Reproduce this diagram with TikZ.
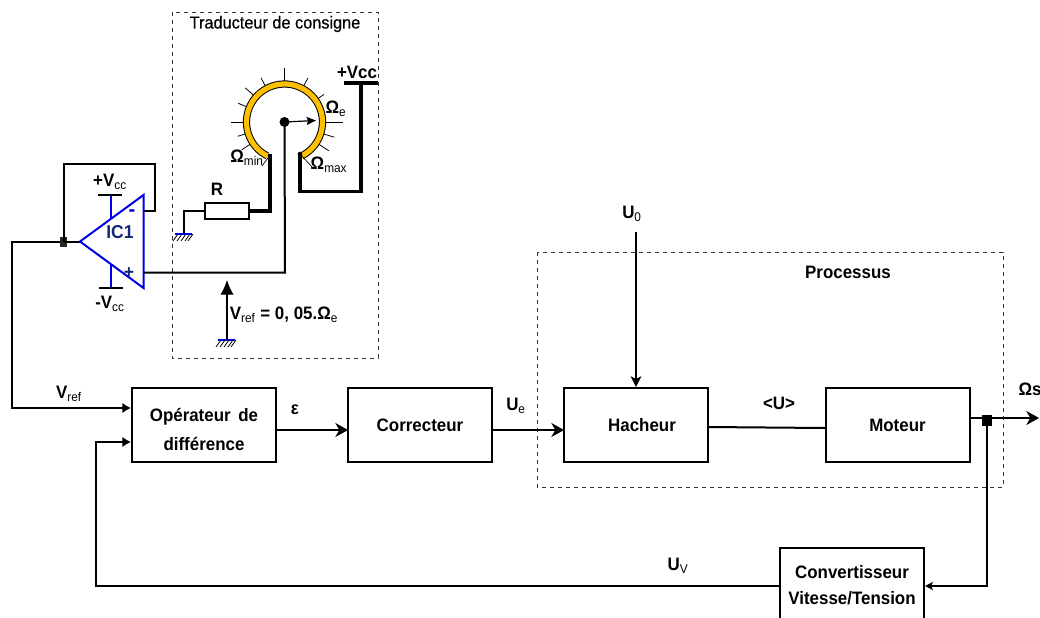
\documentclass[tikz,border=0pt]{standalone}
\usepackage{fontspec}
\setmainfont[FakeStretch=0.94]{Liberation Sans}
\newfontfamily\midfont[FakeStretch=0.94,FakeBold=0.5]{Liberation Sans}
\usetikzlibrary{calc}
\usetikzlibrary{arrows.meta}

\definecolor{opblue}{RGB}{0,0,230}
\definecolor{opnavy}{RGB}{20,40,120}
\definecolor{ringgold}{RGB}{255,192,0}

% Low index in the lighter weight
\newcommand{\lowtxt}[1]{\textsubscript{\mdseries #1}}

\begin{document}
\begin{tikzpicture}[
    x=0.75pt, y=-0.75pt,
    every node/.style={font=\fontsize{13.5}{17}\selectfont\bfseries},
    wire/.style={line width=1.5pt},
    thinwire/.style={line width=1.1pt},
    heavywire/.style={line width=2.3pt},
    framebox/.style={draw=black!80, dashed, line width=0.7pt},
    blockbox/.style={draw, line width=1.5pt, align=center, minimum width=108pt, minimum height=55.5pt, inner sep=0pt},
    tick/.style={line width=0.6pt},
    ampline/.style={draw=opblue, line width=1.5pt},
    >={Stealth[length=9.5pt, width=10.5pt, inset=3pt]},
    gnd/.pic={
      \draw[draw=opblue, line width=1pt] (-9,0) -- (8,0);
      \foreach \h in {-6,-2,2,6,9} {
        \draw[line width=0.6pt] (\h,0) -- (\h-5,7);
      }
    }
  ]

\useasboundingbox (0,0) rectangle (1040,618);
\clip (0,0) rectangle (1040,618);

% Dashed frames
\draw[framebox] (172,12) rectangle (378,358);
\draw[framebox] (537,252) rectangle (1003,487);
\node (traducteur) at (275,24) {\midfont\mdseries\fontsize{13}{16}\selectfont Traducteur de consigne};
\node (processus) at (848,272) {Processus};

% Blocks of the loop
\node[blockbox] (oper) at (204,425) {\rule{0pt}{17pt}Opérateur\, de\\[5pt]différence};
\node[blockbox] (correcteur) at (420,425) {Correcteur};
\node[blockbox] (hacheur) at (636,425) {\hspace*{9pt}Hacheur};
\node[blockbox] (moteur) at (897.5,425) {Moteur};
\node[blockbox, anchor=north] (convert) at (852,547) {Convertisseur\\[3pt]Vitesse/Tension};

% Junction points
\coordinate (tap) at (63.5,241.5);
\coordinate (sense) at (987,420.5);
\coordinate (exit) at (1039,418);
\coordinate (uzero) at (636,232);

% Forward path
\draw[wire, ->] (276,430) -- (348,430);
\draw[wire, ->] (492,430) -- (564,430);
\draw[wire] (708,427) -- (825,428);
\draw[wire, ->] (moteur.east |- exit) -- (exit);
\draw[wire, ->, >={Stealth[length=8pt, width=8pt, inset=2pt]}] (uzero) -- (hacheur.north);

% Return path
\draw[wire, ->, >={Stealth[length=6pt, width=6pt, inset=1.5pt]}] (sense) -- (987,586) -- (convert.east |- 0,586);
\draw[wire, ->, >={Latex[length=6.5pt, width=8pt]}] (convert.west |- 0,586) -- (96,586) -- (96,442) -- (oper.west |- 0,442);
\draw[wire, ->, >={Latex[length=6.5pt, width=8pt]}] (tap) -- (12,241.5) -- (12,408) -- (oper.west |- 0,408);

% Junction squares
\node[fill=black, inner sep=0pt, minimum width=7pt, minimum height=8pt] (sensedot) at (sense) {};
\node[fill=black!85, inner sep=0pt, minimum width=5.8pt, minimum height=7.5pt] (tapdot) at (tap) {};

% Labels of the loop
\node (vref) at (69,394) {V\lowtxt{ref}};
\node (epsilon) at (295,410) {ε};
\node (ue) at (516,406) {U\lowtxt{e}};
\node (moy) at (779,403) {<U>};
\node (uzerolbl) at (632,214) {U\lowtxt{0}};
\node (omegas) at (1030,389) {Ωs};
\node (uv) at (678,566) {U\lowtxt{V}};

% Operational amplifier
\coordinate (amptip) at (80,241.5);
\coordinate (amptop) at (143.5,195);
\coordinate (ampbot) at (143.5,288);
\draw[wire] (tap) -- (amptip);
\draw[ampline] (111,195) -- (111,219);
\draw[ampline] (111,264) -- (111,287);
\draw[wire] (98,194.5) -- (122,194.5);
\draw[wire] (99,287.5) -- (123,287.5);
\draw[ampline, line join=miter] (amptip) -- (amptop) -- (ampbot) -- cycle;
\node[text=opnavy] (ic) at (120,232) {\fontsize{14}{16}\selectfont IC1};
\node[text=opblue] (minus) at (132,213) {\fontsize{16}{16}\selectfont -};
\node[text=opnavy] (plus) at (129,273) {\fontsize{14}{16}\selectfont +};
\node (vpos) at (110,182) {+V\lowtxt{cc}};
\node (vneg) at (110,304) {-V\lowtxt{cc}};

% Feedback of the amplifier
\draw[wire] (143.5,211) -- (155,211) -- (155,164) -- (63.5,164) -- (tap);

% Dial: ticks first, then the ring on top
\coordinate (dial) at (284.5,122);
\foreach \ang/\len in {
    180/54, 197/49, 213/51, 158/50, 139/52, 118/50, 90/54, 62/50, 35/48, 0/58, -17/52, -33/53} {
  \draw[tick] ($(dial)+(-\ang:38)$) -- ($(dial)+(-\ang:\len)$);
}
\draw[line width=5.4pt] ($(dial)+(117:38)$) arc[start angle=117, end angle=423, radius=38];
\draw[draw=ringgold, line width=3.9pt] ($(dial)+(116:38)$) arc[start angle=116, end angle=424, radius=38];
\draw[line width=0.9pt, ->, >={Stealth[length=7pt, width=6pt, inset=1pt]}] (dial) -- (316,120.5);
\node[fill=black, circle, inner sep=0pt, minimum size=7.5pt] (dialdot) at (dial) {};

% Wires of the set point
\draw[wire] (dial) -- (285,272.5) -- (143.5,272.5);
\draw[heavywire, line join=miter] (300,154) -- (300,191.5) -- (361,191.5) -- (361,83);
\draw[heavywire] (344,83) -- (378,83);
\node[fill=black, circle, inner sep=0pt, minimum size=3.5pt] (maxdot) at (300,154) {};
\draw[line width=0.5pt] (300,154) -- (313,168);
\draw[line width=0.5pt] (270,155) -- (262,166);

% Resistor with its ground
\node[draw, line width=1.5pt, minimum width=33pt, minimum height=12.5pt, inner sep=0pt] (resistor) at (227,211) {};
\draw[heavywire, line join=miter] (resistor.east) -- (270,211) -- (270,154);
\draw[wire] (resistor.west) -- (184,211) -- (184,234);
\pic at (184,234) {gnd};

% Reference voltage arrow with its ground
\coordinate (vbase) at (227,340);
\draw[line width=0.9pt, ->, >={Latex[length=11pt, width=10pt]}] (vbase) -- (227,280);
\pic at (vbase) {gnd};

% Labels around the dial
\node (vcc) at (357,72) {+Vcc};
\node (omegae) at (336,109) {Ω\lowtxt{e}};
\node (omegamin) at (247,158) {Ω\lowtxt{min}};
\node (omegamax) at (329,165) {Ω\lowtxt{max}};
\node (rlabel) at (217,189) {R};
\node (vrefval) at (284,315) {V\lowtxt{ref} = 0, 05.Ω\lowtxt{e}};

\end{tikzpicture}
\end{document}
